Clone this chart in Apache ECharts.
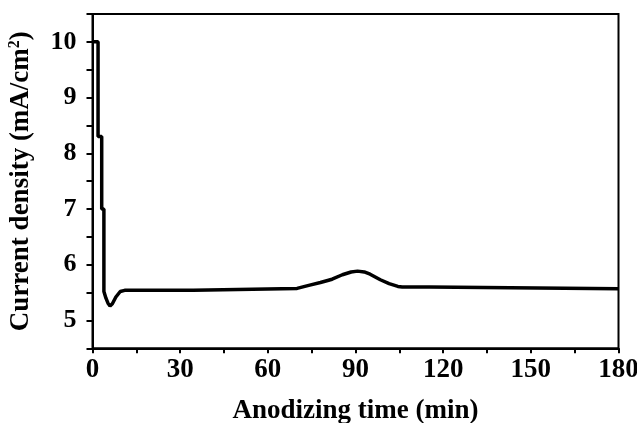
<!DOCTYPE html>
<html>
<head>
<meta charset="utf-8">
<script src="https://cdn.jsdelivr.net/npm/echarts@6/dist/echarts.min.js"></script>
<style>
html,body{margin:0;padding:0;background:#fff;}
#c{width:637px;height:423px;}
</style>
</head>
<body>
<div id="c"></div>
<script>
// Data
var timeMin = [0.2, 1.9, 1.9, 3.15, 3.15, 3.9, 3.9, 4.6, 5.3, 6.0, 6.8, 8.0, 9.5, 11.0, 34.5, 34.6, 70.0, 70.3, 74, 78, 82, 85.5, 88.5, 90.7, 93, 95, 98.5, 101.5, 104.5, 106, 115.2, 115.4, 180];
var currentDensity = [10.0, 10.0, 8.3, 8.3, 7.0, 7.0, 5.52, 5.40, 5.31, 5.26, 5.30, 5.42, 5.52, 5.54, 5.54, 5.575, 5.575, 5.60, 5.63, 5.68, 5.74, 5.82, 5.87, 5.885, 5.87, 5.83, 5.73, 5.66, 5.61, 5.60, 5.60, 5.57, 5.57];
var xTickLabels = [0, 30, 60, 90, 120, 150, 180];
var yTickLabels = [5, 6, 7, 8, 9, 10];
var xTitle = 'Anodizing time (min)';
var yTitle = 'Current density (mA/cm{sup|2})';

var pts = timeMin.map(function (t, i) { return [t, currentDensity[i]]; });
var font = 'Liberation Serif';
var chart = echarts.init(document.getElementById('c'));
chart.setOption({
  animation: false,
  backgroundColor: '#fff',
  grid: { left: 92.5, right: 18.5, top: 14, bottom: 74.7, containLabel: false, outerBoundsMode: 'none', show: true, borderColor: '#000', borderWidth: 2, backgroundColor: 'transparent' },
  xAxis: {
    type: 'value', min: 0, max: 180, interval: 15,
    axisLine: { show: true, onZero: false, lineStyle: { color: '#000', width: 2 } },
    axisTick: { show: true, inside: false, length: 5, lineStyle: { color: '#000', width: 2 } },
    splitLine: { show: false },
    axisLabel: {
      margin: 8, color: '#000', fontFamily: font, fontWeight: 'bold', fontSize: 27,
      formatter: function (v) { return xTickLabels.indexOf(v) >= 0 ? String(v) : ''; }
    },
    name: xTitle, nameLocation: 'middle', nameGap: 49,
    nameTextStyle: { color: '#000', fontFamily: font, fontWeight: 'bold', fontSize: 27 }
  },
  yAxis: {
    type: 'value', min: 4.5, max: 10.5, interval: 0.5,
    axisLine: { show: true, onZero: false, lineStyle: { color: '#000', width: 2 } },
    axisTick: { show: true, inside: false, length: 6, lineStyle: { color: '#000', width: 2 } },
    splitLine: { show: false },
    axisLabel: {
      margin: 16, color: '#000', fontFamily: font, fontWeight: 'bold', fontSize: 26,
      formatter: function (v) { return yTickLabels.indexOf(v) >= 0 ? String(v) : ''; }
    },
    name: yTitle, nameLocation: 'middle', nameGap: 57, nameRotate: 90,
    nameTextStyle: {
      color: '#000', fontFamily: font, fontWeight: 'bold', fontSize: 27,
      rich: { sup: { fontFamily: font, fontWeight: 'bold', fontSize: 16, color: '#000', verticalAlign: 'bottom', padding: [0, 0, 13, 0] } }
    }
  },
  series: [{
    type: 'line', data: pts, showSymbol: false, symbol: 'none',
    lineStyle: { color: '#000', width: 3.5 }
  }]
});
</script>
</body>
</html>
